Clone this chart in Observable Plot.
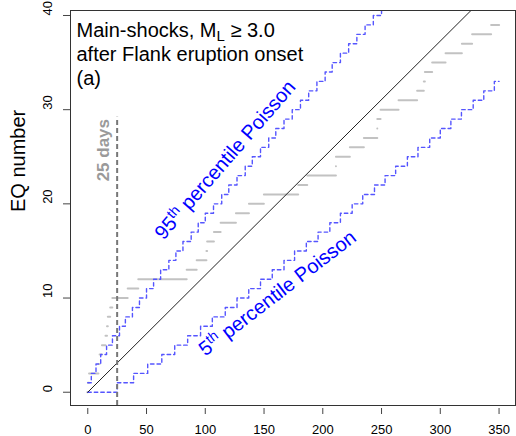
<!DOCTYPE html>
<html>
<head>
<meta charset="utf-8">
<script src="https://cdn.jsdelivr.net/npm/d3@7"></script>
<script src="https://cdn.jsdelivr.net/npm/@observablehq/plot@0.6"></script>
<style>
  html, body { margin: 0; padding: 0; background: #fff; }
  #chart { width: 516px; height: 436px; }
</style>
</head>
<body>
<div id="chart"></div>
<script>
// ---------- data ----------
// observed main-shock times (days after onset) at which the cumulative count reaches 1, 2, 3, ...
const eqDays = [0.5, 1.5, 9.5, 10.5, 12.5, 15.5, 16.8, 17.5, 19.5, 21.3, 34.4, 43.4, 84.6, 93.1,
  101.4, 102, 107.8, 113.5, 126.5, 137.6, 150.3, 179.5, 187.2, 211.6, 211.6, 223.5, 235.4,
  246.8, 246.8, 249.6, 264.9, 280.7, 286.4, 287.3, 293.5, 304.9, 318.8, 327.5, 343.7];
const eqEndDay = 350.5;

// 95th percentile Poisson step curve: day of each step and count reached
const p95Days  = [0, 3, 7, 11, 16, 21, 27, 32, 38, 44, 50, 56, 62, 69, 75, 81, 88, 94, 100, 107,
  114, 120, 127, 134, 140, 147, 154, 160, 167, 174, 181, 188, 195, 202, 208, 215, 222, 229, 236, 243, 250, 255];
const p95Count = [1, 2, 3, 4, 5, 6, 7, 8, 9, 10, 11, 12, 13, 14, 15, 16, 17, 18, 19, 20,
  21, 22, 23, 24, 25, 26, 27, 28, 29, 30, 31, 32, 33, 34, 35, 36, 37, 38, 39, 40, 41, 41];

// 5th percentile Poisson step curve
const p05Days  = [0, 25, 39, 51, 63, 74, 85, 96, 106, 117, 127, 137, 147, 157, 167, 176, 186, 196,
  206, 215, 225, 234, 244, 253, 262, 272, 281, 291, 300, 309, 318, 328, 337, 346, 350];
const p05Count = [0, 1, 2, 3, 4, 5, 6, 7, 8, 9, 10, 11, 12, 13, 14, 15, 16, 17,
  18, 19, 20, 21, 22, 23, 24, 25, 26, 27, 28, 29, 30, 31, 32, 33, 33];

// expected (mean-rate) line
const expectedDays  = [0, 350];
const expectedCount = [0, 43.5];

const markerDay = 25;
const markerTop = 29.2;

const xTicks = [0, 50, 100, 150, 200, 250, 300, 350];
const yTicks = [0, 10, 20, 30, 40];

const titleText = "Main-shocks, ML \u2265 3.0\nafter Flank eruption onset\n(a)";
const yLabel = "EQ number";
const markerLabel = "25 days";
const label95 = "95th percentile Poisson";
const label05 = "5th percentile Poisson";

// ---------- tables built from the arrays ----------
const eqSegments = [{level: 0, start: 0, end: eqDays[0]}].concat(
  eqDays.map((d, i) => ({level: i + 1, start: d, end: i + 1 < eqDays.length ? eqDays[i + 1] : eqEndDay}))
);
const p95 = p95Days.map((d, i) => ({day: d, count: p95Count[i]}));
const p05 = p05Days.map((d, i) => ({day: d, count: p05Count[i]}));
const expected = expectedDays.map((d, i) => ({day: d, count: expectedCount[i]}));

const xDomain = [-14.7, 364];
const yDomain = [-1.41, 40.53];

const blue = "#5555ff";

const chart = Plot.plot({
  width: 516,
  height: 436,
  marginLeft: 70,
  marginRight: 1,
  marginTop: 10,
  marginBottom: 31,
  style: {fontFamily: "'Liberation Sans', Arial, Helvetica, sans-serif", background: "white", color: "black", overflow: "visible"},
  x: {domain: xDomain, label: null},
  y: {domain: yDomain, label: null},
  marks: [
    Plot.ruleY(eqSegments, {y: "level", x1: "start", x2: "end", stroke: "#c2c2c2", strokeWidth: 2, strokeLinecap: "round"}),
    Plot.line(p95, {x: "day", y: "count", curve: "step-after", stroke: blue, strokeWidth: 1.4, strokeDasharray: "3.5,3", clip: true}),
    Plot.line(p05, {x: "day", y: "count", curve: "step-after", stroke: blue, strokeWidth: 1.4, strokeDasharray: "3.5,3", clip: true}),
    Plot.line(expected, {x: "day", y: "count", stroke: "#222", strokeWidth: 1, clip: true}),
    Plot.ruleX([markerDay], {x: d => d, y1: yDomain[0], y2: markerTop, stroke: "#777", strokeWidth: 2, strokeDasharray: "5,3"}),
    Plot.frame({stroke: "#333", strokeWidth: 1}),
    Plot.axisX({ticks: xTicks, tickSize: 6, dy: 3, tickPadding: 10, fontSize: 13, label: null, stroke: "#444"}),
    Plot.axisY({ticks: yTicks, tickSize: 7, tickFormat: () => "", label: null, stroke: "#444"}),
    Plot.text(yTicks, {y: d => d, text: d => String(d), frameAnchor: "left", dx: -22.5, rotate: -90, fontSize: 13}),
    Plot.text([yLabel], {text: d => d, frameAnchor: "left", dx: -52, dy: 4, rotate: -90, fontSize: 20}),
    Plot.text([titleText], {text: d => d, frameAnchor: "top-left", textAnchor: "start", lineAnchor: "top", dx: 6, dy: 9, fontSize: 20, lineHeight: 1.2}),
    Plot.text([markerLabel], {text: d => d, x: 13.4, y: 25.7, rotate: -90, fontSize: 17, fontWeight: "bold", fill: "#9a9a9a"}),
    Plot.text([label95], {text: d => d, x: 117, y: 24.66, rotate: -49, fontSize: 20, fill: "blue"}),
    Plot.text([label05], {text: d => d, x: 161.5, y: 10.5, rotate: -37.5, fontSize: 20, fill: "blue"})
  ]
});

// rich text (sub/superscripts) inside the Plot-made text nodes
function richify(svg, plain, parts) {
  svg.querySelectorAll("text, tspan").forEach(el => {
    if (el.children.length === 0 && el.textContent === plain) {
      el.textContent = "";
      for (const p of parts) {
        const t = document.createElementNS("http://www.w3.org/2000/svg", "tspan");
        t.textContent = p.text;
        if (p.dy) t.setAttribute("dy", p.dy);
        if (p.size) t.setAttribute("font-size", p.size);
        el.appendChild(t);
      }
    }
  });
}
richify(chart, "Main-shocks, ML \u2265 3.0", [
  {text: "Main-shocks, M"}, {text: "L", dy: "4", size: "15"}, {text: " \u2265 3.0", dy: "-4"}
]);
richify(chart, label95, [
  {text: "95"}, {text: "th", dy: "-7", size: "14"}, {text: "\u00a0percentile Poisson", dy: "7"}
]);
richify(chart, label05, [
  {text: "5"}, {text: "th", dy: "-7", size: "14"}, {text: "\u00a0percentile Poisson", dy: "7"}
]);

document.getElementById("chart").appendChild(chart);
</script>
</body>
</html>
